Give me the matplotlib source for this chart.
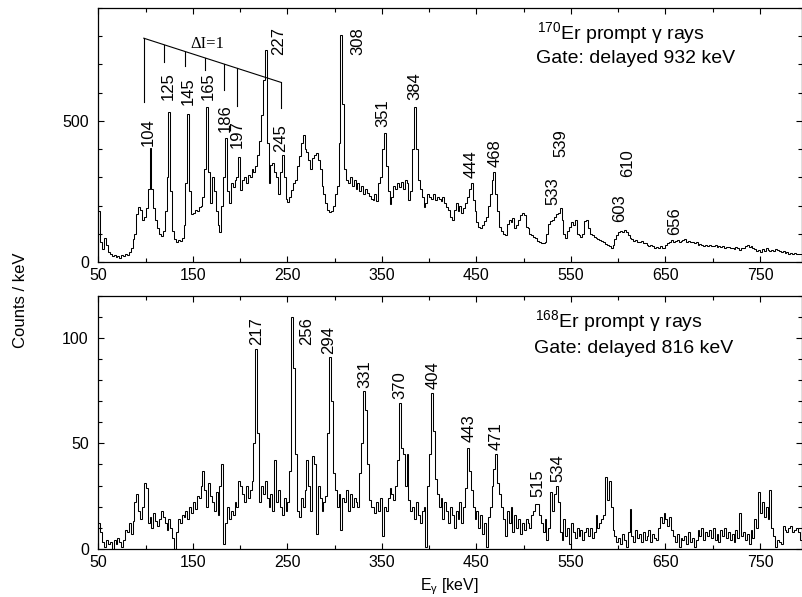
import numpy as np
import matplotlib
matplotlib.use("Agg")
import matplotlib.pyplot as plt
from matplotlib.ticker import MultipleLocator

plt.rcParams['font.family'] = ['Liberation Sans', 'DejaVu Sans']
plt.rcParams['mathtext.fontset'] = 'custom'
plt.rcParams['mathtext.rm'] = 'Liberation Sans'

## spectra, 2 keV bins starting at 50 keV
e_start = 50
bin_w = 2

er170_counts = [
    180, 70, 45, 85, 60,   35, 28, 22, 25, 18,   20, 15, 25, 22, 28,
    25, 35, 50, 80, 100,   170, 195, 185, 150, 160,   190, 260, 405, 260, 190,
    150, 120, 100, 92, 110,   180, 300, 530, 250, 110,   80, 72, 78, 75, 85,
    130, 280, 525, 250, 170,   175, 185, 180, 195, 200,   230, 330, 548, 320, 210,
    300, 250, 180, 130, 105,   200, 300, 438, 250, 210,   280, 265, 290, 300, 373,
    255, 290, 300, 280, 310,   300, 330, 320, 340, 380,   430, 520, 645, 752, 420,
    280, 345, 350, 320, 300,   240, 320, 379, 300, 225,   214, 230, 255, 280, 290,
    340, 375, 420, 450, 400,   390, 360, 330, 370, 380,   385, 360, 330, 270, 240,
    210, 185, 178, 180, 200,   240, 270, 420, 805, 560,   330, 290, 280, 300, 270,
    290, 260, 280, 250, 270,   240, 260, 245, 235, 225,   220, 240, 215, 280, 300,
    400, 458, 340, 250, 205,   230, 270, 260, 280, 265,   285, 260, 290, 280, 220,
    250, 400, 548, 400, 290,   260, 230, 196, 210, 240,   230, 225, 240, 220, 230,
    225, 215, 230, 210, 195,   185, 160, 150, 185, 210,   180, 200, 175, 190, 210,
    230, 260, 279, 220, 180,   140, 125, 119, 130, 145,   160, 200, 240, 290, 320,
    240, 180, 125, 110, 100,   95, 135, 150, 140, 155,   120, 130, 150, 165, 172,
    165, 125, 120, 100, 95,   90, 85, 75, 72, 68,   66, 70, 100, 135, 145,
    150, 160, 170, 175, 190,   150, 100, 84, 110, 125,   140, 130, 149, 100, 95,
    90, 100, 145, 149, 120,   100, 95, 90, 85, 80,   78, 75, 70, 65, 60,
    55, 48, 60, 80, 95,   105, 110, 107, 113, 105,   95, 85, 80, 75, 78,
    72, 70, 75, 68, 66,   60, 58, 62, 55, 50,   52, 48, 55, 50, 48,
    60, 66, 72, 78, 70,   75, 78, 70, 74, 78,   80, 72, 75, 70, 72,
    66, 70, 62, 65, 60,   58, 62, 55, 60, 58,   56, 60, 54, 58, 52,
    55, 50, 54, 52, 48,   50, 46, 52, 48, 44,   48, 50, 55, 60, 52,
    58, 50, 45, 40, 42,   37, 45, 40, 48, 42,   38, 44, 40, 46, 42,
    40, 35, 38, 32, 34,   30, 33, 28, 32, 30,   28, 30, 27,
]

er168_counts = [
    12, 8, 3, 1, 4,   2, 3, 0, 4, 2,   5, 3, 1, 4, 9,
    8, 12, 7, 13, 22,   26, 18, 14, 20, 31,   29, 12, 15, 10, 17,
    13, 11, 14, 18, 15,   12, 9, 14, 10, 5,   0, 8, 14, 12, 16,
    15, 18, 14, 20, 17,   22, 19, 25, 24, 30,   37, 28, 20, 31, 25,
    22, 18, 27, 16, 30,   40, 2, 12, 20, 14,   18, 16, 22, 20, 32,
    30, 26, 22, 30, 24,   28, 32, 50, 95, 55,   22, 30, 26, 32, 24,
    20, 26, 18, 42, 22,   28, 20, 16, 24, 18,   22, 37, 110, 86, 45,
    18, 15, 24, 20, 28,   42, 30, 18, 44, 40,   7, 30, 24, 18, 22,
    25, 55, 91, 70, 36,   28, 20, 26, 9, 24,   22, 28, 18, 26, 20,
    24, 22, 20, 36, 50,   75, 66, 40, 23, 20,   20, 17, 22, 18, 24,
    6, 20, 18, 24, 29,   26, 23, 30, 42, 69,   48, 45, 30, 45, 23,
    18, 20, 14, 22, 16,   12, 18, 20, 1, 30,   45, 74, 56, 33, 26,
    20, 24, 14, 22, 18,   12, 20, 16, 10, 18,   14, 22, 12, 20, 29,
    48, 37, 28, 20, 14,   18, 10, 16, 7, 12,   1, 15, 20, 30, 38,
    45, 31, 26, 20, 14,   6, 18, 12, 20, 8,   16, 10, 14, 7, 12,
    9, 14, 12, 10, 16,   18, 21, 21, 16, 12,   8, 14, 4, 10, 27,
    18, 26, 30, 22, 8,   4, 14, 6, 10, 2,   12, 8, 5, 10, 6,
    9, 4, 8, 10, 6,   10, 5, 8, 16, 10,   12, 14, 16, 34, 23,
    32, 20, 9, 6, 3,   5, 2, 7, 4, 1,   8, 19, 6, 3, 9,
    5, 7, 3, 8, 4,   6, 9, 3, 7, 5,   4, 10, 15, 12, 17,
    14, 11, 15, 9, 6,   3, 7, 1, 5, 4,   6, 2, 8, 3, 5,
    1, 4, 9, 6, 10,   4, 8, 6, 9, 5,   10, 4, 7, 3, 9,
    6, 10, 5, 8, 4,   7, 3, 9, 5, 17,   6, 8, 4, 7, 2,
    9, 5, 14, 10, 27,   17, 22, 15, 20, 14,   28, 10, 6, 1, 4,
    3, 2, 11, 9, 8,   10, 11, 8, 9, 10,   8, 4, 2,
]

## peak labels: text, x (keV), bottom of text (counts)
top_labels = ['104', '125', '145', '165', '186', '197', '227', '245',
              '308', '351', '384', '444', '468', '539', '533', '610', '603', '656']
top_lab_x = [103, 124, 144.5, 165.7, 184, 196.8, 240.5, 242.6,
             324.4, 350.9, 384.4, 444.3, 470, 539.6, 530.8, 610, 601.3, 659.5]
top_lab_y = [411, 574, 557, 574, 462, 403, 734, 391,
             734, 480, 574, 297, 338, 373, 202, 302, 143, 96]

bot_labels = ['217', '256', '294', '331', '370', '404', '443', '471', '515', '534']
bot_lab_x = [216.9, 269.8, 293.7, 331.5, 369.3, 403.8, 442.6, 470.8, 514.9, 536]
bot_lab_y = [96.6, 96.6, 92.6, 76.5, 71, 76, 50.7, 46.8, 24.6, 31.8]

## Delta I = 1 band marker
band_start = (97.9, 793)
band_end = (242.6, 637)
band_x = [97.9, 119.8, 141.7, 162.9, 182.3, 196.8, 242.6]
band_low = [568, 710, 695, 681, 610, 551, 545]

fig = plt.figure(figsize=(8.03, 5.97), dpi=100)
ax1 = fig.add_axes([98.5/803, 1-262/597, 704/803, 254/597])
ax2 = fig.add_axes([98.5/803, 1-548.7/597, 704/803, 252.7/597])

def draw_spec(ax, counts, ymax, major, minor):
    edges = e_start + bin_w*np.arange(len(counts)+1)
    ax.stairs(counts, edges, color='black', lw=0.75)
    ax.set_xlim(50, 795)
    ax.set_ylim(0, ymax)
    ax.set_xticks(np.arange(50, 800, 100))
    ax.xaxis.set_minor_locator(MultipleLocator(50))
    ax.yaxis.set_major_locator(MultipleLocator(major))
    ax.yaxis.set_minor_locator(MultipleLocator(minor))
    ax.tick_params(which='both', direction='in', top=True, right=True, labelsize=11.5)
    ax.tick_params(which='major', length=4, width=0.8)
    ax.tick_params(which='minor', length=3, width=0.8)
    ax.tick_params(axis='y', pad=7)
    ax.tick_params(axis='x', pad=4.5)
    for s in ax.spines.values():
        s.set_linewidth(0.9)

draw_spec(ax1, er170_counts, 900, 500, 100)
draw_spec(ax2, er168_counts, 120, 50, 10)

for t, x, y in zip(top_labels, top_lab_x, top_lab_y):
    ax1.text(x, y, t, rotation=90, ha='center', va='bottom', fontsize=12)
for t, x, y in zip(bot_labels, bot_lab_x, bot_lab_y):
    ax2.text(x, y, t, rotation=90, ha='center', va='bottom', fontsize=12)

# Delta I = 1 band
ax1.plot([band_start[0], band_end[0]], [band_start[1], band_end[1]], color='black', lw=0.8)
band_top = np.interp(band_x, [band_start[0], band_end[0]], [band_start[1], band_end[1]])
for x, y0, y1 in zip(band_x, band_low, band_top):
    ax1.plot([x, x], [y0, y1], color='black', lw=0.8)
ax1.text(164.8, 759, 'ΔI=1', ha='center', va='baseline', fontsize=12, family='Liberation Serif')

ax1.text(0.623, 0.876, r'$\mathregular{^{170}}$Er prompt γ rays', transform=ax1.transAxes,
         ha='left', va='baseline', fontsize=14)
ax1.text(0.621, 0.785, 'Gate: delayed 932 keV', transform=ax1.transAxes,
         ha='left', va='baseline', fontsize=14)
ax2.text(0.620, 0.876, r'$\mathregular{^{168}}$Er prompt γ rays', transform=ax2.transAxes,
         ha='left', va='baseline', fontsize=14)
ax2.text(0.619, 0.775, 'Gate: delayed 816 keV', transform=ax2.transAxes,
         ha='left', va='baseline', fontsize=14)

fig.text(0.025, 0.497, 'Counts / keV', rotation=90, ha='center', va='center', fontsize=12)
fig.text(0.560, 0.018, r'$\mathregular{E_γ}$ [keV]', ha='center', va='center', fontsize=11.5)

fig.savefig('out.png', dpi=100)
